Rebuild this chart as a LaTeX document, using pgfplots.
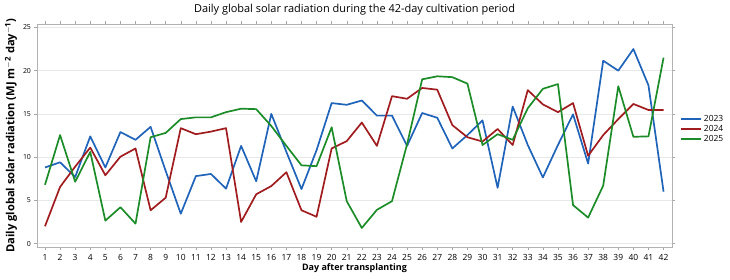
\documentclass[border=0pt]{standalone}
\usepackage{pgfplots}
\pgfplotsset{compat=1.18}
\usepackage{fontspec}
\setmainfont{Open Sans}
\definecolor{c23}{RGB}{31,100,185}
\definecolor{c24}{RGB}{160,28,30}
\definecolor{c25}{RGB}{28,140,40}
\begin{document}
\begin{tikzpicture}
\path[use as bounding box] (-37bp,-33bp) rectangle (693bp,247bp);
\begin{axis}[
  at={(0,0)}, anchor=south west,
  scale only axis, width=635bp, height=223bp,
  xmin=0.47, xmax=42.56, ymin=-0.4, ymax=25.4,
  xtick={1,...,42}, ytick={0,5,10,15,20,25},
  tick align=outside, major tick length=2.5bp,
  tick style={gray!70, line width=0.4pt},
  axis line style={gray!60, line width=0.6pt},
  ymajorgrids, grid style={gray!18, line width=0.5pt},
  xticklabel style={font=\fontsize{8.5}{9}\selectfont, yshift=-1bp},
  yticklabel style={font=\fontsize{7}{8}\selectfont},
  /pgf/number format/assume math mode=true,
  xlabel={\textbf{Day after transplanting}},
  xlabel style={font=\fontsize{9}{10}\selectfont, yshift=3bp},
  ylabel={\textbf{Daily global solar radiation (MJ m\textsuperscript{$-$2} day\textsuperscript{$-$1})}},
  ylabel style={font=\fontsize{11.2}{12}\selectfont, yshift=-1bp},
  title={Daily global solar radiation during the 42-day cultivation period},
  title style={font=\fontsize{11}{12}\selectfont, yshift=-1bp},
  legend style={draw=none, fill=none, at={(1.008,0.53)}, anchor=west,
    font=\fontsize{8.5}{9}\selectfont, row sep=-1.5bp},
  legend cell align=left,
  legend image code/.code={\draw[#1, line width=1.7pt] (0bp,0bp) -- (20bp,0bp);},
  every axis plot/.append style={line width=1.7pt, mark=none, line join=round},
]
\addplot[c23] coordinates {(1,8.8)(2,9.4)(3,7.7)(4,12.4)(5,8.8)(6,12.9)(7,12.0)(8,13.5)(9,8.4)(10,3.45)(11,7.8)(12,8.05)(13,6.35)(14,11.3)(15,7.2)(16,15.0)(17,10.6)(18,6.3)(19,10.8)(20,16.25)(21,16.05)(22,16.55)(23,14.8)(24,14.8)(25,11.3)(26,15.1)(27,14.55)(28,11.0)(29,12.55)(30,14.25)(31,6.45)(32,15.85)(33,11.4)(34,7.65)(35,11.4)(36,14.95)(37,9.25)(38,21.15)(39,20.0)(40,22.5)(41,18.3)(42,6.0)};
\addplot[c24] coordinates {(1,2.0)(2,6.55)(3,8.9)(4,11.1)(5,7.9)(6,10.05)(7,11.0)(8,3.85)(9,5.3)(10,13.35)(11,12.65)(12,12.95)(13,13.35)(14,2.5)(15,5.7)(16,6.65)(17,8.25)(18,3.85)(19,3.1)(20,11.0)(21,11.85)(22,14.0)(23,11.3)(24,17.05)(25,16.75)(26,18.0)(27,17.8)(28,13.7)(29,12.3)(30,11.8)(31,13.25)(32,11.4)(33,17.75)(34,16.1)(35,15.2)(36,16.25)(37,10.15)(38,12.55)(39,14.4)(40,16.15)(41,15.45)(42,15.45)};
\addplot[c25] coordinates {(1,6.8)(2,12.55)(3,7.15)(4,10.6)(5,2.65)(6,4.2)(7,2.3)(8,12.3)(9,12.8)(10,14.4)(11,14.6)(12,14.6)(13,15.2)(14,15.6)(15,15.55)(16,13.6)(17,11.3)(18,9.05)(19,8.95)(20,13.45)(21,4.9)(22,1.8)(23,3.9)(24,4.9)(25,11.5)(26,19.0)(27,19.35)(28,19.25)(29,18.5)(30,11.4)(31,12.65)(32,12.0)(33,15.65)(34,17.9)(35,18.45)(36,4.45)(37,3.0)(38,6.7)(39,18.2)(40,12.35)(41,12.4)(42,21.5)};
\legend{2023,2024,2025}
\end{axis}
\end{tikzpicture}
\end{document}
